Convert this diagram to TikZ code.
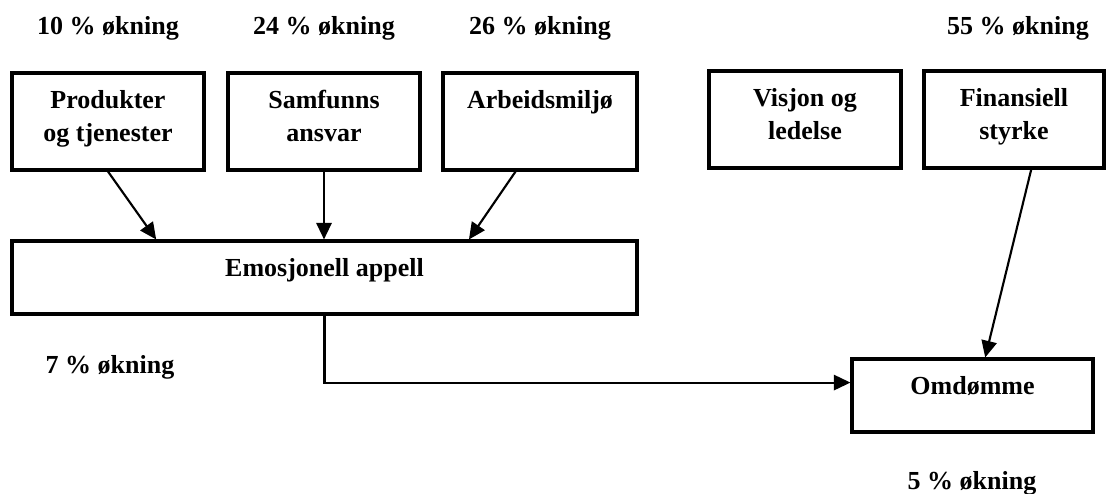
\documentclass[tikz,border=0pt]{standalone}
\usepackage{fontspec}
\setmainfont{Liberation Serif}
\usetikzlibrary{arrows.meta,calc}

\tikzset{every picture/.style={line width=0.75pt}}
\tikzset{
  boxnode/.style={draw, rectangle, line width=2.3pt, inner sep=0pt},
  lbl/.style={inner sep=0pt, align=center, font=\fontsize{19.5}{24.75}\selectfont\bfseries},
  conn/.style={line width=1.6pt, -{Triangle[length=12.5pt,width=11.5pt]}},
}

\begin{document}
\begin{tikzpicture}[x=0.75pt,y=0.75pt,yscale=-1,xscale=1]
\useasboundingbox (0,0) rectangle (1106,493);

%Shape: Rectangle [id:prod]
\node [boxnode, minimum width=144pt, minimum height=72.75pt] (prod) at (108,121.5) {};
%Shape: Rectangle [id:sam]
\node [boxnode, minimum width=144pt, minimum height=72.75pt] (sam) at (324,121.5) {};
%Shape: Rectangle [id:arb]
\node [boxnode, minimum width=145.5pt, minimum height=72.75pt] (arb) at (540,121.5) {};
%Shape: Rectangle [id:vis]
\node [boxnode, minimum width=144pt, minimum height=72.75pt] (vis) at (805,119.5) {};
%Shape: Rectangle [id:fin]
\node [boxnode, minimum width=135pt, minimum height=72.75pt] (fin) at (1014,119.5) {};
%Shape: Rectangle [id:emos]
\node [boxnode, minimum width=468.75pt, minimum height=54.75pt] (emos) at (324.5,277.5) {};
%Shape: Rectangle [id:omd]
\node [boxnode, minimum width=180.75pt, minimum height=54.75pt] (omd) at (972.5,395.5) {};

% Text Node
\node [lbl, anchor=north] (prodtxt) at ([yshift=13.5pt]prod.north) {Produkter\\og tjenester};
% Text Node
\node [lbl, anchor=north] (samtxt) at ([yshift=13.5pt]sam.north) {Samfunns\\ansvar};
% Text Node
\node [lbl, anchor=north] (arbtxt) at ([yshift=13.5pt]arb.north) {Arbeidsmiljø};
% Text Node
\node [lbl, anchor=north] (vistxt) at ([yshift=13.5pt]vis.north) {Visjon og\\ledelse};
% Text Node
\node [lbl, anchor=north] (fintxt) at ([yshift=13.5pt]fin.north) {Finansiell\\styrke};
% Text Node
\node [lbl, anchor=north] (emostxt) at ([yshift=13.5pt]emos.north) {Emosjonell appell};
% Text Node
\node [lbl, anchor=north] (omdtxt) at ([yshift=13.5pt]omd.north) {Omdømme};

% Text Node
\node [lbl, anchor=base] (prodpct) at (108,34) {10 \% økning};
% Text Node
\node [lbl, anchor=base] (sampct) at (324,34) {24 \% økning};
% Text Node
\node [lbl, anchor=base] (arbpct) at (540,34) {26 \% økning};
% Text Node
\node [lbl, anchor=base] (finpct) at (1018,34) {55 \% økning};
% Text Node
\node [lbl, anchor=base] (emospct) at (110,373) {7 \% økning};
% Text Node
\node [lbl, anchor=base] (omdpct) at (972,489) {5 \% økning};

%Straight Lines
\draw [conn] (prod.south) -- ($(emos.north west)!.232!(emos.north east)$);
%Straight Lines
\draw [conn] (sam.south) -- (sam.south |- emos.north);
%Straight Lines
\draw [conn] ($(arb.south west)!.376!(arb.south east)$) -- ($(emos.north west)!.73!(emos.north east)$);
%Straight Lines
\draw [conn] ($(fin.south west)!.594!(fin.south east)$) -- ($(omd.north west)!.552!(omd.north east)$);
%Connector
\draw [conn] (emos.south) |- ($(omd.north west)!.33!(omd.south west)$);

\end{tikzpicture}
\end{document}
